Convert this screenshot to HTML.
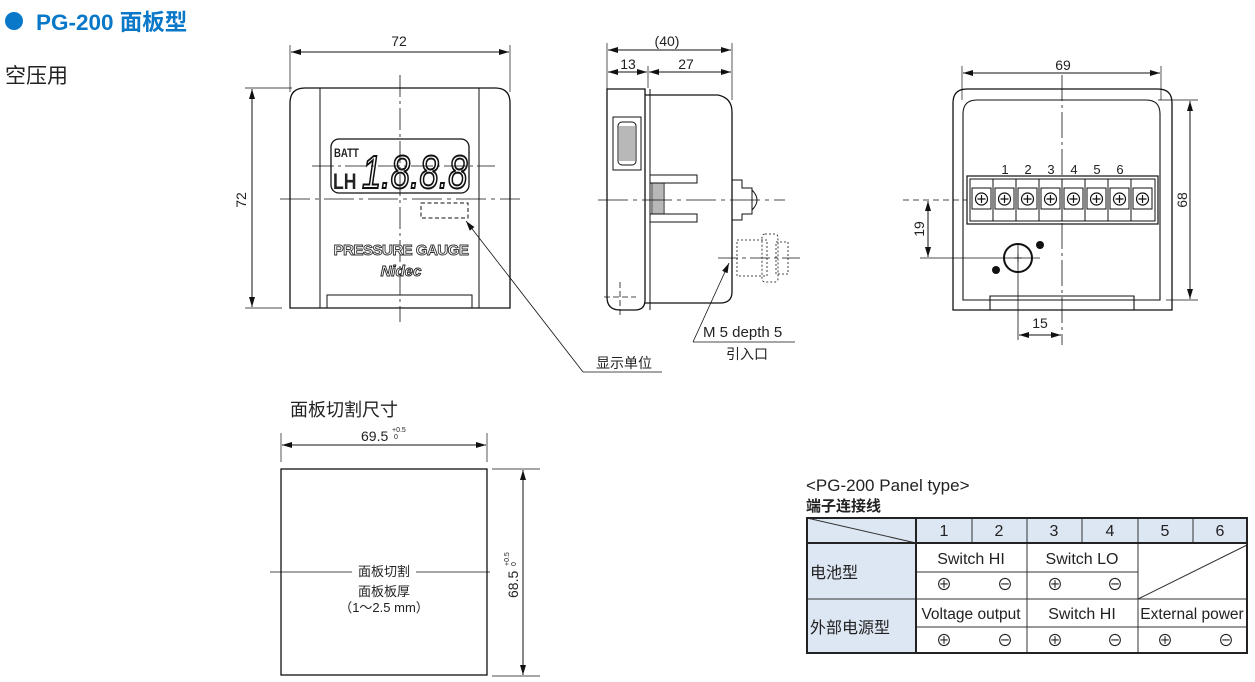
<!DOCTYPE html>
<html><head><meta charset="utf-8"><style>
html,body{margin:0;padding:0;background:#fff}
svg{display:block}
text{font-family:"Liberation Sans","Noto Sans CJK SC",sans-serif;fill:#222}
</style></head><body>
<svg width="1255" height="682" viewBox="0 0 1255 682" xmlns="http://www.w3.org/2000/svg">
<defs>
<marker id="a" viewBox="0 0 10 6" refX="10" refY="3" markerWidth="10" markerHeight="6" orient="auto-start-reverse" markerUnits="userSpaceOnUse"><path d="M0,0L10,3L0,6z" fill="#111"/></marker>
</defs>
<!-- title -->
<circle cx="14" cy="21" r="9" fill="#0a78c8"/>
<text x="36" y="30" font-size="22.5" font-weight="bold" style="fill:#0a78c8">PG-200 面板型</text>
<text x="5" y="83" font-size="21">空压用</text>

<g stroke="#111" fill="none" stroke-width="1">
<!-- FRONT -->
<path d="M290,308V103Q290,88 305,88H495Q510,88 510,103V308Z" stroke-width="1.3"/>
<line x1="320" y1="88" x2="320" y2="308"/><line x1="479" y1="88" x2="479" y2="308"/>
<rect x="327" y="295" width="145" height="13"/>
<rect x="331" y="139" width="138" height="54" rx="8" stroke-width="1.3"/>
<line x1="290" y1="45" x2="290" y2="92" stroke-width="0.7"/><line x1="510" y1="45" x2="510" y2="92" stroke-width="0.7"/>
<line x1="291" y1="52" x2="509" y2="52" marker-start="url(#a)" marker-end="url(#a)"/>
<line x1="245" y1="88" x2="292" y2="88" stroke-width="0.7"/><line x1="245" y1="308" x2="282" y2="308" stroke-width="0.7"/>
<line x1="252" y1="89" x2="252" y2="307" marker-start="url(#a)" marker-end="url(#a)"/>
<line x1="400" y1="75" x2="400" y2="322" stroke-dasharray="22,4,3,4" stroke-width="0.8"/>
<line x1="312" y1="166" x2="495" y2="166" stroke-dasharray="22,4,3,4" stroke-width="0.8"/>
<line x1="280" y1="199" x2="520" y2="199" stroke-dasharray="30,5,4,5" stroke-width="0.8"/>
<rect x="421" y="203" width="47" height="15" stroke-dasharray="4,2.5"/>
<polyline points="583,372 662,372" stroke-width="0.8"/>
<line x1="583" y1="372" x2="466" y2="221" stroke-width="0.8" marker-end="url(#a)"/>

<!-- SIDE -->
<path d="M607,89H645V300Q645,310 635,310H620Q607,310 607,297Z" stroke-width="1.3"/>
<path d="M645,95H718Q732,98 732,112V292Q732,303 720,303H645" stroke-width="1.3"/>
<line x1="650" y1="89" x2="650" y2="310"/>
<rect x="613" y="117" width="28" height="53"/>
<rect x="618" y="122" width="18" height="43" rx="4"/>
<path d="M620,126v35M622,126v35M624,126v35M626,126v35M628,126v35M630,126v35M632,126v35M634,126v35" stroke-width="0.6"/>
<path d="M650,175H697V183H650M650,214H697V222H650"/>
<rect x="652" y="183" width="12" height="31"/>
<path d="M654,183v31M656,183v31M658,183v31M660,183v31M662,183v31" stroke-width="0.6"/>
<path d="M732,180H742V188H752V214H742V220H732"/>
<path d="M752,190Q762,200 752,210"/>
<line x1="607" y1="43" x2="607" y2="92" stroke-width="0.7"/><line x1="732" y1="43" x2="732" y2="100" stroke-width="0.7"/>
<line x1="648" y1="66" x2="648" y2="88" stroke-width="0.7"/>
<line x1="608" y1="50" x2="731" y2="50" marker-start="url(#a)" marker-end="url(#a)"/>
<line x1="608" y1="72" x2="647" y2="72" marker-start="url(#a)" marker-end="url(#a)"/>
<line x1="649" y1="72" x2="731" y2="72" marker-start="url(#a)" marker-end="url(#a)"/>
<line x1="598" y1="200" x2="785" y2="200" stroke-dasharray="30,5,4,5" stroke-width="0.8"/>
<g stroke-dasharray="2,2" stroke-width="0.8"><rect x="737" y="240" width="30" height="36"/><rect x="762" y="234" width="16" height="48" rx="3"/><rect x="776" y="242" width="12" height="32"/></g>
<line x1="718" y1="258" x2="800" y2="258" stroke-dasharray="20,4,4,4" stroke-width="0.8"/>
<line x1="620" y1="282" x2="620" y2="318" stroke-dasharray="6,3" stroke-width="0.8"/>
<line x1="604" y1="297" x2="636" y2="297" stroke-dasharray="6,3" stroke-width="0.8"/>
<line x1="795" y1="342" x2="693" y2="342" stroke-width="0.8"/>
<line x1="693" y1="342" x2="729" y2="263" stroke-width="0.8" marker-end="url(#a)"/>

<!-- BACK -->
<path d="M953,310V103Q953,89 967,89H1158Q1172,89 1172,103V310Z" stroke-width="1.3"/>
<path d="M963,300V114Q963,100 977,100H1146Q1160,100 1160,114V300Z" stroke-width="1.1"/>
<path d="M990,310V296H1134V310" stroke-width="1.1"/>
<rect x="967" y="176" width="191" height="48" stroke-width="1.2"/>
<rect x="970" y="179" width="185" height="42"/>
<line x1="903" y1="200" x2="967" y2="200" stroke-dasharray="6,4" stroke-width="0.8"/>
<line x1="1062" y1="75" x2="1062" y2="345" stroke-dasharray="26,4,3,4" stroke-width="0.8"/>
<line x1="962" y1="66" x2="962" y2="100" stroke-width="0.7"/><line x1="1161" y1="66" x2="1161" y2="100" stroke-width="0.7"/>
<line x1="963" y1="73" x2="1160" y2="73" marker-start="url(#a)" marker-end="url(#a)"/>
<line x1="1158" y1="100" x2="1198" y2="100" stroke-width="0.7"/><line x1="1166" y1="300" x2="1198" y2="300" stroke-width="0.7"/>
<line x1="1190" y1="101" x2="1190" y2="299" marker-start="url(#a)" marker-end="url(#a)"/>
<line x1="920" y1="258" x2="1040" y2="258" stroke-width="0.8"/>
<line x1="928" y1="201" x2="928" y2="257" marker-start="url(#a)" marker-end="url(#a)"/>
<line x1="1018" y1="243" x2="1018" y2="340" stroke-width="0.8"/>
<line x1="1019" y1="335" x2="1061" y2="335" marker-start="url(#a)" marker-end="url(#a)"/>
<circle cx="1018" cy="258" r="14" stroke-width="2"/>
<path d="M1014,258h8M1018,254v8" stroke-width="0.8"/>

<!-- CUTOUT -->
<rect x="281" y="469" width="206" height="206" stroke-width="1.3"/>
<line x1="281" y1="433" x2="281" y2="462" stroke-width="0.7"/><line x1="487" y1="433" x2="487" y2="462" stroke-width="0.7"/>
<line x1="282" y1="445" x2="486" y2="445" marker-start="url(#a)" marker-end="url(#a)"/>
<line x1="492" y1="469" x2="540" y2="469" stroke-width="0.7"/><line x1="492" y1="676" x2="540" y2="676" stroke-width="0.7"/>
<line x1="523" y1="470" x2="523" y2="675" marker-start="url(#a)" marker-end="url(#a)"/>
<line x1="270" y1="572" x2="352" y2="572" stroke-width="0.8"/><line x1="416" y1="572" x2="490" y2="572" stroke-width="0.8"/>
</g>
<g fill="#111"><circle cx="1040" cy="245" r="4"/><circle cx="996" cy="270" r="4"/></g>
<!-- terminals -->
<g stroke="#111" fill="none" stroke-width="1">
<line x1="993" y1="179" x2="993" y2="221"/><line x1="1016" y1="179" x2="1016" y2="221"/><line x1="1039" y1="179" x2="1039" y2="221"/><line x1="1062" y1="179" x2="1062" y2="221"/><line x1="1085" y1="179" x2="1085" y2="221"/><line x1="1108" y1="179" x2="1108" y2="221"/><line x1="1131" y1="179" x2="1131" y2="221"/>
<rect x="972" y="188" width="19" height="21"/><rect x="995" y="188" width="19" height="21"/><rect x="1018" y="188" width="19" height="21"/><rect x="1041" y="188" width="19" height="21"/><rect x="1064" y="188" width="19" height="21"/><rect x="1087" y="188" width="19" height="21"/><rect x="1110" y="188" width="19" height="21"/><rect x="1133" y="188" width="19" height="21"/>
<g stroke-width="1.2">
<circle cx="981.5" cy="199" r="6"/><circle cx="1004.5" cy="199" r="6"/><circle cx="1027.5" cy="199" r="6"/><circle cx="1050.5" cy="199" r="6"/><circle cx="1073.5" cy="199" r="6"/><circle cx="1096.5" cy="199" r="6"/><circle cx="1119.5" cy="199" r="6"/><circle cx="1142.5" cy="199" r="6"/>
<path d="M977.5,199h8M981.5,195v8M1000.5,199h8M1004.5,195v8M1023.5,199h8M1027.5,195v8M1046.5,199h8M1050.5,195v8M1069.5,199h8M1073.5,195v8M1092.5,199h8M1096.5,195v8M1115.5,199h8M1119.5,195v8M1138.5,199h8M1142.5,195v8"/>
</g></g>
<g font-size="13" text-anchor="middle">
<text x="1005" y="174">1</text><text x="1028" y="174">2</text><text x="1051" y="174">3</text><text x="1074" y="174">4</text><text x="1097" y="174">5</text><text x="1120" y="174">6</text>
</g>

<!-- front texts -->
<g font-size="14" text-anchor="middle">
<text x="399" y="46">72</text>
<text transform="translate(246,200) rotate(-90)">72</text>
<text x="667" y="46">(40)</text><text x="628" y="69">13</text><text x="686" y="69">27</text>
<text x="1063" y="70">69</text>
<text transform="translate(1187,200) rotate(-90)">68</text>
<text transform="translate(924,229) rotate(-90)">19</text>
<text x="1040" y="328">15</text>
</g>
<text font-size="12" font-weight="bold" transform="translate(334,157) scale(0.8,1)">BATT</text>
<text font-size="22" font-weight="bold" transform="translate(333,189) scale(0.8,1)">LH</text>
<text font-size="46" font-style="italic" transform="translate(362,188) scale(0.75,1)" style="fill:none;stroke:#111;stroke-width:2">1.8.8.8</text>
<text x="401" y="255" font-size="15" font-weight="bold" text-anchor="middle" style="fill:#fff;stroke:#333;stroke-width:0.9" letter-spacing="-0.5">PRESSURE GAUGE</text>
<text x="401" y="276" font-size="15" font-weight="bold" font-style="italic" text-anchor="middle" style="fill:#fff;stroke:#222;stroke-width:0.9">Nidec</text>
<text x="596" y="368" font-size="14">显示单位</text>
<text x="703" y="337" font-size="15">M 5 depth 5</text>
<text x="726" y="359" font-size="14">引入口</text>

<!-- cutout texts -->
<text x="290" y="416" font-size="18">面板切割尺寸</text>
<text x="361" y="441" font-size="14">69.5</text>
<text x="392" y="432" font-size="7">+0.5</text><text x="394" y="439" font-size="7">0</text>
<text transform="translate(518,598) rotate(-90)" font-size="14">68.5</text>
<text transform="translate(509,566) rotate(-90)" font-size="7">+0.5</text>
<text transform="translate(516,566) rotate(-90)" font-size="7">0</text>
<g font-size="13" text-anchor="middle"><text x="384" y="576">面板切割</text><text x="384" y="596">面板板厚</text><text x="384" y="612">（1～2.5 mm）</text></g>

<!-- table -->
<text x="806" y="491" font-size="17">&lt;PG-200 Panel type&gt;</text>
<text x="806" y="511" font-size="15" font-weight="bold">端子连接线</text>
<g stroke="#333" stroke-width="1">
<rect x="807" y="518" width="440" height="25" fill="#dde6f3"/>
<rect x="807" y="543" width="109" height="110" fill="#dde6f3"/>
<line x1="807" y1="518" x2="916" y2="543"/>
<line x1="972" y1="518" x2="972" y2="543"/><line x1="1027" y1="518" x2="1027" y2="653"/><line x1="1082" y1="518" x2="1082" y2="543"/><line x1="1138" y1="518" x2="1138" y2="653"/><line x1="1193" y1="518" x2="1193" y2="543"/>
<line x1="916" y1="572" x2="1138" y2="572"/>
<line x1="807" y1="599" x2="1247" y2="599"/>
<line x1="916" y1="627" x2="1247" y2="627"/>
<line x1="1138" y1="599" x2="1247" y2="545"/>
</g>
<rect x="807" y="518" width="440" height="135" fill="none" stroke="#222" stroke-width="2"/>
<line x1="916" y1="518" x2="916" y2="653" stroke="#222" stroke-width="2"/>
<line x1="807" y1="543" x2="1247" y2="543" stroke="#222" stroke-width="2"/>
<g font-size="16" text-anchor="middle">
<text x="944" y="536">1</text><text x="999" y="536">2</text><text x="1054" y="536">3</text><text x="1110" y="536">4</text><text x="1165" y="536">5</text><text x="1220" y="536">6</text>
<text x="971" y="564">Switch HI</text><text x="1082" y="564">Switch LO</text>
<text x="971" y="619" font-size="15.5">Voltage output</text><text x="1082" y="619">Switch HI</text><text x="1192" y="619" font-size="15.5">External power</text>
<text x="944" y="590">⊕</text><text x="1005" y="590">⊖</text><text x="1055" y="590">⊕</text><text x="1115" y="590">⊖</text>
<text x="944" y="646">⊕</text><text x="1005" y="646">⊖</text><text x="1055" y="646">⊕</text><text x="1115" y="646">⊖</text><text x="1165" y="646">⊕</text><text x="1226" y="646">⊖</text>
</g>
<text x="810" y="578" font-size="16">电池型</text>
<text x="810" y="633" font-size="16">外部电源型</text>
</svg>
</body></html>
